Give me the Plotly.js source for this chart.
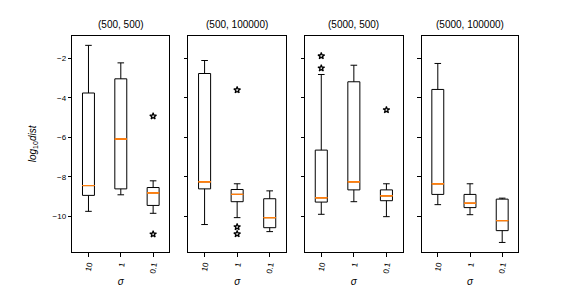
<!DOCTYPE html>
<html>
<head>
<meta charset="utf-8">
<script src="https://cdn.plot.ly/plotly-3.0.1.min.js"></script>
<style>html,body{margin:0;padding:0;background:#fff;}#chart{width:576px;height:288px;}</style>
</head>
<body>
<div id="chart"></div>
<script>
// categories (sigma)
const sigmaLabels = ['10', '1', '0.1'];
const panelTitles = ['(500, 500)', '(500, 100000)', '(5000, 500)', '(5000, 100000)'];

// box statistics per panel, in order of sigmaLabels (log10 dist)
const lowerWhisker = [
  [-9.76, -8.92, -9.86],
  [-10.43, -10.08, -10.79],
  [-9.91, -9.27, -10.03],
  [-9.42, -9.93, -11.34]
];
const q1Values = [
  [-8.95, -8.62, -9.46],
  [-8.62, -9.27, -10.59],
  [-9.29, -8.67, -9.22],
  [-8.90, -9.57, -10.74]
];
const medianValues = [
  [-8.45, -6.09, -8.82],
  [-8.26, -8.90, -10.08],
  [-9.07, -8.26, -8.97],
  [-8.36, -9.35, -10.23]
];
const q3Values = [
  [-3.75, -3.03, -8.55],
  [-2.76, -8.65, -9.12],
  [-6.65, -3.18, -8.67],
  [-3.57, -8.90, -9.14]
];
const upperWhisker = [
  [-1.33, -2.22, -8.21],
  [-2.10, -8.36, -8.72],
  [-2.81, -2.34, -8.36],
  [-2.25, -8.36, -9.09]
];
// outliers: [sigma label, value]
const outlierSigma = [
  ['0.1', '0.1'],
  ['1', '1', '1'],
  ['10', '10', '0.1'],
  []
];
const outlierValues = [
  [-4.93, -10.92],
  [-3.60, -10.55, -10.91],
  [-1.87, -2.49, -4.61],
  []
];

const W = 576, H = 288;
const xPix = [[72.3, 169.3], [188.3, 286.0], [305.0, 402.7], [421.7, 518.3]];
const yTop = 35.5, yBot = 252.3;
const yRange = [-11.84, -0.83];

const traces = [];
const layout = {
  width: W, height: H,
  margin: {l: 0, r: 0, t: 0, b: 0},
  paper_bgcolor: '#fff', plot_bgcolor: '#fff',
  showlegend: false,
  font: {family: 'Liberation Sans, Arial, sans-serif', color: '#000', size: 10},
  annotations: []
};

for (let p = 0; p < 4; p++) {
  const sfx = p === 0 ? '' : String(p + 1);
  const xa = 'x' + sfx, ya = 'y' + sfx;
  traces.push({
    type: 'box', xaxis: xa, yaxis: ya,
    x: sigmaLabels,
    q1: q1Values[p], median: medianValues[p], q3: q3Values[p],
    lowerfence: lowerWhisker[p], upperfence: upperWhisker[p],
    width: 0.37, whiskerwidth: 0.55,
    fillcolor: 'rgba(0,0,0,0)',
    line: {color: '#000', width: 1},
    boxpoints: false, hoverinfo: 'skip'
  });
  traces.push({
    type: 'box', xaxis: xa, yaxis: ya,
    x: sigmaLabels,
    q1: medianValues[p], median: medianValues[p], q3: medianValues[p],
    lowerfence: medianValues[p], upperfence: medianValues[p],
    width: 0.37, whiskerwidth: 1,
    fillcolor: 'rgba(0,0,0,0)',
    line: {color: '#ff7f0e', width: 1},
    boxpoints: false, hoverinfo: 'skip'
  });
  if (outlierValues[p].length) {
    traces.push({
      type: 'scatter', mode: 'markers', xaxis: xa, yaxis: ya,
      x: outlierSigma[p], y: outlierValues[p],
      marker: {symbol: 'star-open', size: 5, color: '#000', line: {color: '#000', width: 1.2}},
      hoverinfo: 'skip'
    });
  }
  layout['xaxis' + sfx] = {
    domain: [xPix[p][0] / W, xPix[p][1] / W],
    anchor: ya,
    type: 'category',
    categoryorder: 'array', categoryarray: sigmaLabels,
    range: [-0.5, 2.5],
    showline: true, mirror: true, linecolor: '#000', linewidth: 1,
    ticks: 'outside', ticklen: 3.5, tickcolor: '#000', tickwidth: 1,
    tickangle: -80, tickfont: {size: 8, color: '#000'},
    showgrid: false, zeroline: false, automargin: false,
    title: {text: '<i>σ</i>', font: {size: 10, color: '#000'}, standoff: 4}
  };
  const yax = {
    domain: [1 - yBot / H, 1 - yTop / H],
    anchor: xa,
    range: yRange,
    tickvals: [-10, -8, -6, -4, -2],
    ticktext: ['\u221210', '\u22128', '\u22126', '\u22124', '\u22122'],
    showticklabels: p === 0,
    showline: true, mirror: true, linecolor: '#000', linewidth: 1,
    ticks: 'outside', ticklen: 3.5, tickcolor: '#000', tickwidth: 1,
    tickfont: {size: 8, color: '#000'},
    showgrid: false, zeroline: false, automargin: false
  };
  if (p === 0) {
    yax.title = {text: '<i>log</i><sub>10</sub><i>dist</i>', font: {size: 10, color: '#000'}, standoff: 14};
  }
  layout['yaxis' + sfx] = yax;
  layout.annotations.push({
    text: panelTitles[p], xref: 'paper', yref: 'paper',
    x: (xPix[p][0] + xPix[p][1]) / 2 / W, y: 1 - (yTop - 4) / H,
    xanchor: 'center', yanchor: 'bottom', showarrow: false,
    font: {size: 10, color: '#000'}
  });
}

Plotly.newPlot('chart', traces, layout, {staticPlot: true});
</script>
</body>
</html>
